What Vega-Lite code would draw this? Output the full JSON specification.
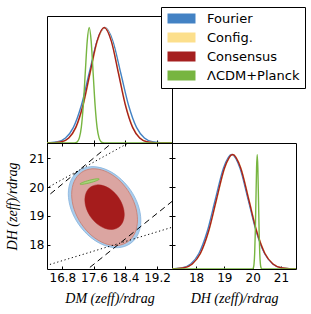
{
  "$schema": "https://vega.github.io/schema/vega-lite/v6.json",
  "padding": {"left": 5, "top": 6, "right": 0, "bottom": 0},
  "config": {
    "view": {"stroke": "#000", "strokeWidth": 1},
    "font": "DejaVu Sans",
    "axis": {"grid": false, "domain": false, "tickColor": "#000", "tickSize": 3, "offset": -3, "labelPadding": 3, "labelFont": "DejaVu Sans", "labelFontSize": 12, "labelColor": "#000", "titleFont": "Liberation Serif", "titleFontSize": 14, "titleFontStyle": "italic", "titleFontWeight": "normal", "titleColor": "#000", "titlePadding": 8}
  },
  "datasets": {
    "dm1d": [
      {"s": "Fourier", "x": 16.0, "p": 0}, {"s": "Fourier", "x": 16.28, "p": 0.0003}, {"s": "Fourier", "x": 16.48, "p": 0.0022}, {"s": "Fourier", "x": 16.68, "p": 0.0111}, {"s": "Fourier", "x": 16.88, "p": 0.0439}, {"s": "Fourier", "x": 17.08, "p": 0.1353}, {"s": "Fourier", "x": 17.28, "p": 0.3247}, {"s": "Fourier", "x": 17.48, "p": 0.6065}, {"s": "Fourier", "x": 17.68, "p": 0.8825}, {"s": "Fourier", "x": 17.88, "p": 1}, {"s": "Fourier", "x": 18.08, "p": 0.8825}, {"s": "Fourier", "x": 18.28, "p": 0.6065}, {"s": "Fourier", "x": 18.48, "p": 0.3247}, {"s": "Fourier", "x": 18.68, "p": 0.1353}, {"s": "Fourier", "x": 18.88, "p": 0.0439}, {"s": "Fourier", "x": 19.08, "p": 0.0111}, {"s": "Fourier", "x": 19.28, "p": 0.0022}, {"s": "Fourier", "x": 19.48, "p": 0.0003}, {"s": "Fourier", "x": 20.0, "p": 0},
      {"s": "Config.", "x": 16.0, "p": 0}, {"s": "Config.", "x": 16.43, "p": 0.0003}, {"s": "Config.", "x": 16.61, "p": 0.0022}, {"s": "Config.", "x": 16.79, "p": 0.0111}, {"s": "Config.", "x": 16.97, "p": 0.0439}, {"s": "Config.", "x": 17.15, "p": 0.1353}, {"s": "Config.", "x": 17.33, "p": 0.3247}, {"s": "Config.", "x": 17.51, "p": 0.6065}, {"s": "Config.", "x": 17.69, "p": 0.8825}, {"s": "Config.", "x": 17.87, "p": 1}, {"s": "Config.", "x": 18.05, "p": 0.8825}, {"s": "Config.", "x": 18.23, "p": 0.6065}, {"s": "Config.", "x": 18.41, "p": 0.3247}, {"s": "Config.", "x": 18.59, "p": 0.1353}, {"s": "Config.", "x": 18.77, "p": 0.0439}, {"s": "Config.", "x": 18.95, "p": 0.0111}, {"s": "Config.", "x": 19.13, "p": 0.0022}, {"s": "Config.", "x": 19.31, "p": 0.0003}, {"s": "Config.", "x": 20.0, "p": 0},
      {"s": "Consensus", "x": 16.0, "p": 0}, {"s": "Consensus", "x": 16.42, "p": 0.0003}, {"s": "Consensus", "x": 16.6, "p": 0.0022}, {"s": "Consensus", "x": 16.78, "p": 0.0111}, {"s": "Consensus", "x": 16.96, "p": 0.0439}, {"s": "Consensus", "x": 17.14, "p": 0.1353}, {"s": "Consensus", "x": 17.32, "p": 0.3247}, {"s": "Consensus", "x": 17.5, "p": 0.6065}, {"s": "Consensus", "x": 17.68, "p": 0.8825}, {"s": "Consensus", "x": 17.86, "p": 1}, {"s": "Consensus", "x": 18.04, "p": 0.8825}, {"s": "Consensus", "x": 18.22, "p": 0.6065}, {"s": "Consensus", "x": 18.4, "p": 0.3247}, {"s": "Consensus", "x": 18.58, "p": 0.1353}, {"s": "Consensus", "x": 18.76, "p": 0.0439}, {"s": "Consensus", "x": 18.94, "p": 0.0111}, {"s": "Consensus", "x": 19.12, "p": 0.0022}, {"s": "Consensus", "x": 19.3, "p": 0.0003}, {"s": "Consensus", "x": 20.0, "p": 0},
      {"s": "ΛCDM+Planck", "x": 16.0, "p": 0}, {"s": "ΛCDM+Planck", "x": 17.08, "p": 0.0003}, {"s": "ΛCDM+Planck", "x": 17.13, "p": 0.0022}, {"s": "ΛCDM+Planck", "x": 17.18, "p": 0.0111}, {"s": "ΛCDM+Planck", "x": 17.23, "p": 0.0439}, {"s": "ΛCDM+Planck", "x": 17.28, "p": 0.1353}, {"s": "ΛCDM+Planck", "x": 17.33, "p": 0.3247}, {"s": "ΛCDM+Planck", "x": 17.38, "p": 0.6065}, {"s": "ΛCDM+Planck", "x": 17.43, "p": 0.8825}, {"s": "ΛCDM+Planck", "x": 17.48, "p": 1}, {"s": "ΛCDM+Planck", "x": 17.53, "p": 0.8825}, {"s": "ΛCDM+Planck", "x": 17.58, "p": 0.6065}, {"s": "ΛCDM+Planck", "x": 17.63, "p": 0.3247}, {"s": "ΛCDM+Planck", "x": 17.68, "p": 0.1353}, {"s": "ΛCDM+Planck", "x": 17.73, "p": 0.0439}, {"s": "ΛCDM+Planck", "x": 17.78, "p": 0.0111}, {"s": "ΛCDM+Planck", "x": 17.83, "p": 0.0022}, {"s": "ΛCDM+Planck", "x": 17.88, "p": 0.0003}, {"s": "ΛCDM+Planck", "x": 20.0, "p": 0}
    ],
    "dh1d": [
      {"s": "Fourier", "x": 16.5, "p": 0}, {"s": "Fourier", "x": 16.94, "p": 0.0003}, {"s": "Fourier", "x": 17.23, "p": 0.0022}, {"s": "Fourier", "x": 17.52, "p": 0.0111}, {"s": "Fourier", "x": 17.81, "p": 0.0439}, {"s": "Fourier", "x": 18.1, "p": 0.1353}, {"s": "Fourier", "x": 18.39, "p": 0.3247}, {"s": "Fourier", "x": 18.68, "p": 0.6065}, {"s": "Fourier", "x": 18.97, "p": 0.8825}, {"s": "Fourier", "x": 19.26, "p": 1}, {"s": "Fourier", "x": 19.55, "p": 0.8825}, {"s": "Fourier", "x": 19.84, "p": 0.6065}, {"s": "Fourier", "x": 20.13, "p": 0.3247}, {"s": "Fourier", "x": 20.42, "p": 0.1353}, {"s": "Fourier", "x": 20.71, "p": 0.0439}, {"s": "Fourier", "x": 21.0, "p": 0.0111}, {"s": "Fourier", "x": 21.29, "p": 0.0022}, {"s": "Fourier", "x": 21.58, "p": 0.0003}, {"s": "Fourier", "x": 22.0, "p": 0},
      {"s": "Config.", "x": 16.5, "p": 0}, {"s": "Config.", "x": 17.02, "p": 0.0003}, {"s": "Config.", "x": 17.305, "p": 0.0022}, {"s": "Config.", "x": 17.59, "p": 0.0111}, {"s": "Config.", "x": 17.875, "p": 0.0439}, {"s": "Config.", "x": 18.16, "p": 0.1353}, {"s": "Config.", "x": 18.445, "p": 0.3247}, {"s": "Config.", "x": 18.73, "p": 0.6065}, {"s": "Config.", "x": 19.015, "p": 0.8825}, {"s": "Config.", "x": 19.3, "p": 1}, {"s": "Config.", "x": 19.585, "p": 0.8825}, {"s": "Config.", "x": 19.87, "p": 0.6065}, {"s": "Config.", "x": 20.155, "p": 0.3247}, {"s": "Config.", "x": 20.44, "p": 0.1353}, {"s": "Config.", "x": 20.725, "p": 0.0439}, {"s": "Config.", "x": 21.01, "p": 0.0111}, {"s": "Config.", "x": 21.295, "p": 0.0022}, {"s": "Config.", "x": 21.58, "p": 0.0003}, {"s": "Config.", "x": 22.0, "p": 0},
      {"s": "Consensus", "x": 16.5, "p": 0}, {"s": "Consensus", "x": 17.01, "p": 0.0003}, {"s": "Consensus", "x": 17.295, "p": 0.0022}, {"s": "Consensus", "x": 17.58, "p": 0.0111}, {"s": "Consensus", "x": 17.865, "p": 0.0439}, {"s": "Consensus", "x": 18.15, "p": 0.1353}, {"s": "Consensus", "x": 18.435, "p": 0.3247}, {"s": "Consensus", "x": 18.72, "p": 0.6065}, {"s": "Consensus", "x": 19.005, "p": 0.8825}, {"s": "Consensus", "x": 19.29, "p": 1}, {"s": "Consensus", "x": 19.575, "p": 0.8825}, {"s": "Consensus", "x": 19.86, "p": 0.6065}, {"s": "Consensus", "x": 20.145, "p": 0.3247}, {"s": "Consensus", "x": 20.43, "p": 0.1353}, {"s": "Consensus", "x": 20.715, "p": 0.0439}, {"s": "Consensus", "x": 21.0, "p": 0.0111}, {"s": "Consensus", "x": 21.285, "p": 0.0022}, {"s": "Consensus", "x": 21.57, "p": 0.0003}, {"s": "Consensus", "x": 22.0, "p": 0},
      {"s": "ΛCDM+Planck", "x": 16.5, "p": 0}, {"s": "ΛCDM+Planck", "x": 19.98, "p": 0.0003}, {"s": "ΛCDM+Planck", "x": 20.0025, "p": 0.0022}, {"s": "ΛCDM+Planck", "x": 20.025, "p": 0.0111}, {"s": "ΛCDM+Planck", "x": 20.0475, "p": 0.0439}, {"s": "ΛCDM+Planck", "x": 20.07, "p": 0.1353}, {"s": "ΛCDM+Planck", "x": 20.0925, "p": 0.3247}, {"s": "ΛCDM+Planck", "x": 20.115, "p": 0.6065}, {"s": "ΛCDM+Planck", "x": 20.1375, "p": 0.8825}, {"s": "ΛCDM+Planck", "x": 20.16, "p": 1}, {"s": "ΛCDM+Planck", "x": 20.1825, "p": 0.8825}, {"s": "ΛCDM+Planck", "x": 20.205, "p": 0.6065}, {"s": "ΛCDM+Planck", "x": 20.2275, "p": 0.3247}, {"s": "ΛCDM+Planck", "x": 20.25, "p": 0.1353}, {"s": "ΛCDM+Planck", "x": 20.2725, "p": 0.0439}, {"s": "ΛCDM+Planck", "x": 20.295, "p": 0.0111}, {"s": "ΛCDM+Planck", "x": 20.3175, "p": 0.0022}, {"s": "ΛCDM+Planck", "x": 20.34, "p": 0.0003}, {"s": "ΛCDM+Planck", "x": 22.0, "p": 0}
    ],
    "ellBlue": [
      {"i": 0, "x": 18.79, "y": 18.835}, {"i": 1, "x": 18.72, "y": 19.38}, {"i": 2, "x": 18.52, "y": 19.912}, {"i": 3, "x": 18.222, "y": 20.352}, {"i": 4, "x": 17.87, "y": 20.631}, {"i": 5, "x": 17.518, "y": 20.708}, {"i": 6, "x": 17.22, "y": 20.57}, {"i": 7, "x": 17.02, "y": 20.239}, {"i": 8, "x": 16.95, "y": 19.765}, {"i": 9, "x": 17.02, "y": 19.22}, {"i": 10, "x": 17.22, "y": 18.688}, {"i": 11, "x": 17.518, "y": 18.248}, {"i": 12, "x": 17.87, "y": 17.969}, {"i": 13, "x": 18.222, "y": 17.892}, {"i": 14, "x": 18.52, "y": 18.03}, {"i": 15, "x": 18.72, "y": 18.361}
    ],
    "ellPink": [
      {"i": 0, "x": 18.705, "y": 18.859}, {"i": 1, "x": 18.642, "y": 19.375}, {"i": 2, "x": 18.46, "y": 19.88}, {"i": 3, "x": 18.19, "y": 20.296}, {"i": 4, "x": 17.87, "y": 20.56}, {"i": 5, "x": 17.55, "y": 20.633}, {"i": 6, "x": 17.28, "y": 20.503}, {"i": 7, "x": 17.098, "y": 20.189}, {"i": 8, "x": 17.035, "y": 19.741}, {"i": 9, "x": 17.098, "y": 19.225}, {"i": 10, "x": 17.28, "y": 18.72}, {"i": 11, "x": 17.55, "y": 18.304}, {"i": 12, "x": 17.87, "y": 18.04}, {"i": 13, "x": 18.19, "y": 17.967}, {"i": 14, "x": 18.46, "y": 18.097}, {"i": 15, "x": 18.642, "y": 18.411}
    ],
    "ellRed": [
      {"i": 0, "x": 18.37, "y": 19.044}, {"i": 1, "x": 18.332, "y": 19.344}, {"i": 2, "x": 18.224, "y": 19.637}, {"i": 3, "x": 18.061, "y": 19.878}, {"i": 4, "x": 17.87, "y": 20.032}, {"i": 5, "x": 17.679, "y": 20.074}, {"i": 6, "x": 17.516, "y": 19.998}, {"i": 7, "x": 17.408, "y": 19.816}, {"i": 8, "x": 17.37, "y": 19.556}, {"i": 9, "x": 17.408, "y": 19.256}, {"i": 10, "x": 17.516, "y": 18.963}, {"i": 11, "x": 17.679, "y": 18.722}, {"i": 12, "x": 17.87, "y": 18.568}, {"i": 13, "x": 18.061, "y": 18.526}, {"i": 14, "x": 18.224, "y": 18.602}, {"i": 15, "x": 18.332, "y": 18.784}
    ],
    "ellGreen": [
      {"i": 0, "x": 17.735, "y": 20.278}, {"i": 1, "x": 17.669, "y": 20.221}, {"i": 2, "x": 17.498, "y": 20.146}, {"i": 3, "x": 17.323, "y": 20.097}, {"i": 4, "x": 17.245, "y": 20.102}, {"i": 5, "x": 17.311, "y": 20.159}, {"i": 6, "x": 17.482, "y": 20.234}, {"i": 7, "x": 17.657, "y": 20.283}
    ],
    "guides": [
      {"l": "a", "style": "dashed", "x": 16.3, "y": 19.538}, {"l": "a", "style": "dashed", "x": 18.3, "y": 21.808},
      {"l": "b", "style": "dotted", "x": 16.3, "y": 19.885}, {"l": "b", "style": "dotted", "x": 18.6, "y": 21.627},
      {"l": "c", "style": "dashed", "x": 17.3, "y": 16.989}, {"l": "c", "style": "dashed", "x": 19.7, "y": 19.631},
      {"l": "d", "style": "dotted", "x": 16.3, "y": 17.232}, {"l": "d", "style": "dotted", "x": 19.7, "y": 18.65}
    ]
  },
  "columns": 2,
  "spacing": 0,
  "bounds": "flush",
  "resolve": {"scale": {"x": "independent", "y": "independent", "color": "shared"}},
  "concat": [
    {
      "width": 125, "height": 127,
      "data": {"name": "dm1d"},
      "mark": {"type": "line", "interpolate": "monotone", "clip": true, "strokeWidth": 1.4},
      "encoding": {
        "x": {"field": "x", "type": "quantitative", "scale": {"domain": [16.41, 19.58], "nice": false, "zero": false}, "axis": {"title": null, "labels": false, "values": [16.8, 17.6, 18.4, 19.2], "tickSize": 6}},
        "y": {"field": "p", "type": "quantitative", "scale": {"domain": [0, 1.1], "nice": false}, "axis": null},
        "color": {"field": "s", "type": "nominal", "scale": {"domain": ["Fourier", "Config.", "Consensus", "ΛCDM+Planck"], "range": ["#4382c4", "#fcdf8c", "#a51f1f", "#77b540"]},
          "legend": {"title": null, "orient": "none", "legendX": 114, "legendY": -9, "fillColor": "white", "strokeColor": "black", "padding": 5, "cornerRadius": 0, "symbolType": "M-1,-1H4.6V1H-1Z", "symbolSize": 100, "symbolStrokeWidth": 0, "symbolOpacity": 1, "labelFont": "DejaVu Sans", "labelFontSize": 13, "labelColor": "black", "labelOffset": 28, "rowPadding": 5, "zindex": 1,
            "encode": {"symbols": {"update": {"fill": {"scale": "color", "field": "value"}, "stroke": {"value": "transparent"}}}}}}
      }
    },
    {
      "width": 124, "height": 127,
      "view": {"stroke": null},
      "data": {"values": [{"k": 0}]},
      "mark": {"type": "point", "opacity": 0},
      "encoding": {}
    },
    {
      "width": 125, "height": 126,
      "resolve": {"axis": {"y": "independent"}},
      "layer": [
        {
          "data": {"name": "ellBlue"},
          "mark": {"type": "line", "interpolate": "cardinal-closed", "fill": "#a9cceb", "stroke": "#86b3dd", "strokeWidth": 0.8, "clip": true},
          "encoding": {
            "x": {"field": "x", "type": "quantitative", "scale": {"domain": [16.41, 19.58], "nice": false, "zero": false}, "axis": {"title": "DM (zeff)/rdrag", "values": [16.8, 17.6, 18.4, 19.2], "format": ".1f"}},
            "y": {"field": "y", "type": "quantitative", "scale": {"domain": [17.15, 21.53], "nice": false, "zero": false}, "axis": {"title": "DH (zeff)/rdrag", "values": [18, 19, 20, 21], "titlePadding": 9}},
            "order": {"field": "i", "type": "quantitative"}
          }
        },
        {
          "data": {"name": "ellPink"},
          "mark": {"type": "line", "interpolate": "cardinal-closed", "fill": "#dba5a1", "stroke": "#c97a6c", "strokeWidth": 0.8, "clip": true},
          "encoding": {
            "x": {"field": "x", "type": "quantitative"},
            "y": {"field": "y", "type": "quantitative", "axis": null},
            "order": {"field": "i", "type": "quantitative"}
          }
        },
        {
          "data": {"name": "ellRed"},
          "mark": {"type": "line", "interpolate": "cardinal-closed", "fill": "#a51c1c", "stroke": "#a51c1c", "strokeWidth": 0.5, "clip": true},
          "encoding": {
            "x": {"field": "x", "type": "quantitative"},
            "y": {"field": "y", "type": "quantitative", "axis": null},
            "order": {"field": "i", "type": "quantitative"}
          }
        },
        {
          "data": {"name": "ellGreen"},
          "mark": {"type": "line", "interpolate": "cardinal-closed", "fill": "#a8d47c", "stroke": "#77b540", "strokeWidth": 0.8, "clip": true},
          "encoding": {
            "x": {"field": "x", "type": "quantitative"},
            "y": {"field": "y", "type": "quantitative", "axis": null},
            "order": {"field": "i", "type": "quantitative"}
          }
        },
        {
          "data": {"name": "guides"},
          "mark": {"type": "line", "color": "#000", "strokeWidth": 1, "clip": true},
          "encoding": {
            "x": {"field": "x", "type": "quantitative"},
            "y": {"field": "y", "type": "quantitative", "axis": {"orient": "right", "title": null, "labels": false, "values": [18, 19, 20, 21], "tickSize": 6}},
            "detail": {"field": "l", "type": "nominal"},
            "strokeDash": {"field": "style", "type": "nominal", "scale": {"domain": ["dashed", "dotted"], "range": [[6, 4], [1.2, 2.6]]}, "legend": null}
          }
        }
      ]
    },
    {
      "width": 124, "height": 126,
      "data": {"name": "dh1d"},
      "mark": {"type": "line", "interpolate": "monotone", "clip": true, "strokeWidth": 1.4},
      "encoding": {
        "x": {"field": "x", "type": "quantitative", "scale": {"domain": [17.15, 21.53], "nice": false, "zero": false}, "axis": {"title": "DH (zeff)/rdrag", "values": [18, 19, 20, 21]}},
        "y": {"field": "p", "type": "quantitative", "scale": {"domain": [0, 1.1], "nice": false}, "axis": null},
        "color": {"field": "s", "type": "nominal", "scale": {"domain": ["Fourier", "Config.", "Consensus", "ΛCDM+Planck"], "range": ["#4382c4", "#fcdf8c", "#a51f1f", "#77b540"]},
          "legend": {"title": null, "orient": "none", "legendX": 114, "legendY": -9, "fillColor": "white", "strokeColor": "black", "padding": 5, "cornerRadius": 0, "symbolType": "M-1,-1H4.6V1H-1Z", "symbolSize": 100, "symbolStrokeWidth": 0, "symbolOpacity": 1, "labelFont": "DejaVu Sans", "labelFontSize": 13, "labelColor": "black", "labelOffset": 28, "rowPadding": 5, "zindex": 1,
            "encode": {"symbols": {"update": {"fill": {"scale": "color", "field": "value"}, "stroke": {"value": "transparent"}}}}}}
      }
    }
  ]
}
